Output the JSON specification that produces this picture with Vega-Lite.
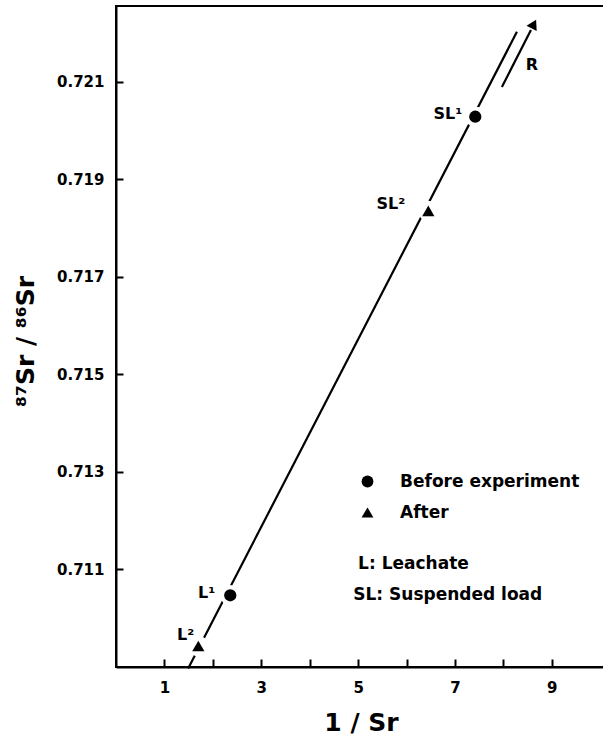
{
  "$schema": "https://vega.github.io/schema/vega-lite/v6.json",
  "width": 490,
  "height": 661,
  "autosize": {"type": "none"},
  "padding": {"left": 116, "top": 6, "right": 0, "bottom": 75},
  "background": "white",
  "config": {
    "view": {"stroke": "black", "strokeWidth": 2},
    "font": "DejaVu Sans",
    "axis": {
      "domainColor": "black",
      "domainWidth": 2,
      "tickColor": "black",
      "tickWidth": 2,
      "grid": false,
      "labelFont": "DejaVu Sans",
      "labelFontWeight": "bold",
      "labelFontSize": 15,
      "labelColor": "black",
      "titleFont": "DejaVu Sans",
      "titleFontWeight": "bold",
      "titleFontSize": 25,
      "titleColor": "black"
    }
  },
  "datasets": {
    "pts": [
      {"id": "SL1", "label": "SL¹", "stage": "Before experiment", "x": 7.42, "y": 0.72028},
      {"id": "SL2", "label": "SL²", "stage": "After", "x": 6.45, "y": 0.71835},
      {"id": "L1", "label": "L¹", "stage": "Before experiment", "x": 2.36, "y": 0.71047},
      {"id": "L2", "label": "L²", "stage": "After", "x": 1.7, "y": 0.70943}
    ],
    "lines": [
      {"seg": "fit", "x": 1.49, "y": 0.70897},
      {"seg": "fit", "x": 8.28, "y": 0.72202},
      {"seg": "R", "x": 7.97, "y": 0.72089},
      {"seg": "R", "x": 8.57, "y": 0.72206}
    ],
    "head": [{"x": 8.63, "y": 0.72218}],
    "rlabel": [{"text": "R", "x": 8.59, "y": 0.72134}],
    "notes": [
      {"text": "L: Leachate", "x": 5.0, "y": 0.71112},
      {"text": "SL: Suspended load", "x": 4.9, "y": 0.71047}
    ]
  },
  "encoding": {
    "x": {
      "field": "x",
      "type": "quantitative",
      "scale": {"domain": [0, 10.12], "nice": false, "zero": false},
      "axis": {
        "values": [1, 2, 3, 4, 5, 6, 7, 8, 9],
        "labelExpr": "datum.value % 2 == 1 ? datum.label : ''",
        "tickSize": -8,
        "labelPadding": 21,
        "title": "1 / Sr",
        "titleBaseline": "middle",
        "titleY": 55
      }
    },
    "y": {
      "field": "y",
      "type": "quantitative",
      "scale": {"domain": [0.709, 0.72255], "nice": false, "zero": false},
      "axis": {
        "values": [0.711, 0.713, 0.715, 0.717, 0.719, 0.721],
        "format": ".3f",
        "tickSize": -7,
        "labelPadding": 19,
        "title": "⁸⁷Sr / ⁸⁶Sr",
        "titleBaseline": "middle",
        "titleX": -91,
        "titleY": 335
      }
    }
  },
  "layer": [
    {
      "data": {"name": "lines"},
      "mark": {"type": "line", "color": "black", "strokeWidth": 2.2},
      "encoding": {"detail": {"field": "seg", "type": "nominal"}}
    },
    {
      "data": {"name": "pts"},
      "mark": {"type": "point", "filled": true, "color": "white", "opacity": 1, "size": 420, "shape": "circle"}
    },
    {
      "data": {"name": "pts"},
      "mark": {"type": "point", "filled": true, "color": "black", "opacity": 1, "size": 150},
      "encoding": {
        "shape": {
          "field": "stage",
          "type": "nominal",
          "scale": {"domain": ["Before experiment", "After"], "range": ["circle", "triangle-up"]},
          "legend": {
            "orient": "none",
            "legendX": 243,
            "legendY": 467,
            "title": null,
            "padding": 0,
            "symbolSize": 140,
            "symbolFillColor": "black",
            "symbolStrokeColor": "black",
            "symbolStrokeWidth": 0,
            "labelFont": "DejaVu Sans",
            "labelFontWeight": "bold",
            "labelFontSize": 17,
            "labelColor": "black",
            "labelLimit": 0,
            "labelOffset": 24,
            "rowPadding": 13
          }
        }
      }
    },
    {
      "data": {"name": "head"},
      "mark": {"type": "point", "filled": true, "color": "black", "opacity": 1, "shape": "triangle-up", "size": 130, "angle": 27}
    },
    {
      "data": {"name": "pts"},
      "transform": [{"filter": "datum.id == 'SL1'"}],
      "mark": {"type": "text", "align": "right", "baseline": "middle", "font": "DejaVu Sans", "fontWeight": "bold", "fontSize": 16, "dx": -13, "dy": -3, "color": "black"},
      "encoding": {"text": {"field": "label"}}
    },
    {
      "data": {"name": "pts"},
      "transform": [{"filter": "datum.id == 'SL2'"}],
      "mark": {"type": "text", "align": "right", "baseline": "middle", "font": "DejaVu Sans", "fontWeight": "bold", "fontSize": 16, "dx": -23, "dy": -7, "color": "black"},
      "encoding": {"text": {"field": "label"}}
    },
    {
      "data": {"name": "pts"},
      "transform": [{"filter": "datum.id == 'L1'"}],
      "mark": {"type": "text", "align": "right", "baseline": "middle", "font": "DejaVu Sans", "fontWeight": "bold", "fontSize": 16, "dx": -15, "dy": -2, "color": "black"},
      "encoding": {"text": {"field": "label"}}
    },
    {
      "data": {"name": "pts"},
      "transform": [{"filter": "datum.id == 'L2'"}],
      "mark": {"type": "text", "align": "right", "baseline": "middle", "font": "DejaVu Sans", "fontWeight": "bold", "fontSize": 16, "dx": -4, "dy": -11, "color": "black"},
      "encoding": {"text": {"field": "label"}}
    },
    {
      "data": {"name": "rlabel"},
      "mark": {"type": "text", "align": "center", "baseline": "middle", "font": "DejaVu Sans", "fontWeight": "bold", "fontSize": 16, "color": "black"},
      "encoding": {"text": {"field": "text"}}
    },
    {
      "data": {"name": "notes"},
      "mark": {"type": "text", "align": "left", "baseline": "middle", "font": "DejaVu Sans", "fontWeight": "bold", "fontSize": 17, "color": "black"},
      "encoding": {"text": {"field": "text"}}
    }
  ]
}
